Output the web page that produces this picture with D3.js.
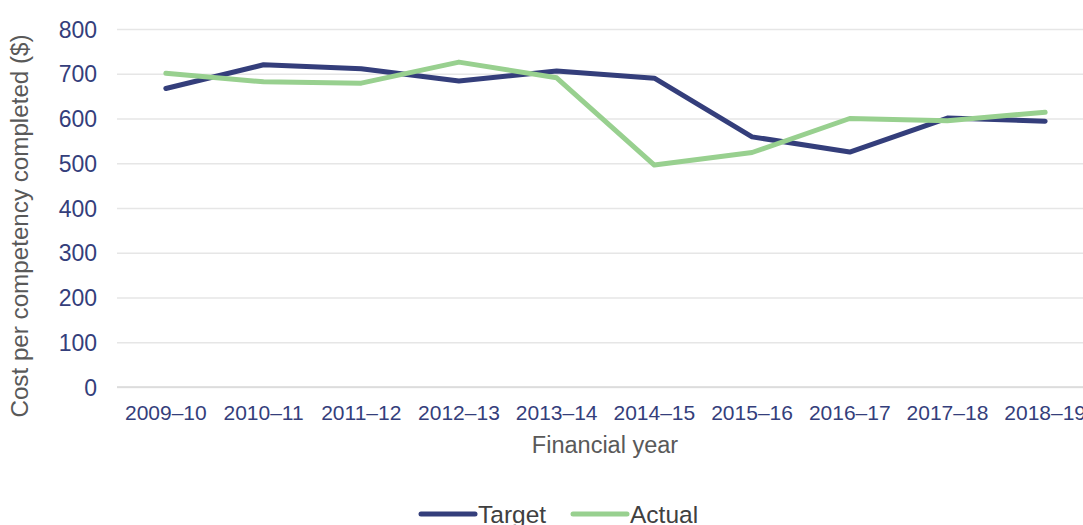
<!DOCTYPE html>
<head>
<meta charset="utf-8">
<script src="https://d3js.org/d3.v7.min.js"></script>
<style>
body { margin:0; background:#fff; }
svg { display:block; font-family: "Liberation Sans", Arial, sans-serif; }
svg text { font-family: "Liberation Sans", Arial, sans-serif; }
.grid line { stroke:#e6e6e6; stroke-width:1.5px; }
.grid path { display:none; }
.y-axis path, .y-axis line, .x-axis line, .x-axis path { display:none; }
.line { fill:none; stroke-width:5px; stroke-linejoin:round; stroke-linecap:round; }
</style>
</head>
<body>
<svg id="chart" width="1083" height="525"></svg>
<script>

var years = ["2009–10","2010–11","2011–12","2012–13","2013–14","2014–15","2015–16","2016–17","2017–18","2018–19"];
var target = [667, 720, 711, 684, 706, 690, 559, 525, 601, 594];
var actual = [701, 682, 679, 726, 691, 496, 524, 600, 595, 614];
var yTicks = [0, 100, 200, 300, 400, 500, 600, 700, 800];

var navy = "#343e7b", green = "#98d08f";

var svg = d3.select("#chart");

var x = d3.scaleBand().domain(years).range([117, 1094]);
var y = d3.scaleLinear().domain([0, 800]).range([387, 29]);

// gridlines
svg.append("g")
	.attr("class", "grid")
	.attr("transform", "translate(117,0)")
	.call(d3.axisLeft(y).tickValues(yTicks).tickSize(-(1094 - 117)).tickFormat(""));

svg.append("line")
	.attr("x1", 117).attr("x2", 1094)
	.attr("y1", y(0)).attr("y2", y(0))
	.style("stroke", "#d9d9d9").style("stroke-width", 1.5);

var yAxis = svg.append("g")
	.attr("class", "y-axis")
	.attr("transform", "translate(97,0)")
	.call(d3.axisLeft(y).tickValues(yTicks).tickSize(0).tickPadding(0));
yAxis.selectAll("text")
	.style("font-size", "23px")
	.style("fill", navy)
	.attr("dy", "0.35em");

var xAxis = svg.append("g")
	.attr("class", "x-axis")
	.attr("transform", "translate(0," + y(0) + ")")
	.call(d3.axisBottom(x).tickSize(0).tickPadding(0));
xAxis.selectAll("text")
	.style("font-size", "21px")
	.style("fill", navy)
	.attr("dy", null)
	.attr("y", 33);

svg.append("text")
	.attr("transform", "translate(28,226) rotate(-90)")
	.attr("text-anchor", "middle")
	.style("font-size", "24.2px")
	.style("fill", "#595959")
	.text("Cost per competency completed ($)");

svg.append("text")
	.attr("x", 605).attr("y", 453)
	.attr("text-anchor", "middle")
	.style("font-size", "23.5px")
	.style("fill", "#595959")
	.text("Financial year");

var line = d3.line()
	.x((d, i) => x(years[i]) + x.bandwidth() / 2)
	.y(d => y(d));

var series = [
	{name: "Target", values: target, color: navy},
	{name: "Actual", values: actual, color: green}
];

svg.selectAll(".series")
	.data(series)
	.enter().append("path")
	.attr("class", "line series")
	.style("stroke", d => d.color)
	.attr("d", d => line(d.values));

// legend
var legend = svg.append("g").selectAll("g")
	.data(series)
	.enter().append("g")
	.attr("transform", (d, i) => "translate(" + (421 + i * 152) + ",514)");

legend.append("line")
	.attr("x1", 0).attr("x2", 54)
	.style("stroke", d => d.color)
	.style("stroke-width", 5)
	.style("stroke-linecap", "round");

legend.append("text")
	.attr("x", 57)
	.attr("dy", "0.36em")
	.style("font-size", "24.5px")
	.style("fill", "#404040")
	.text(d => d.name);

</script>
</body>
